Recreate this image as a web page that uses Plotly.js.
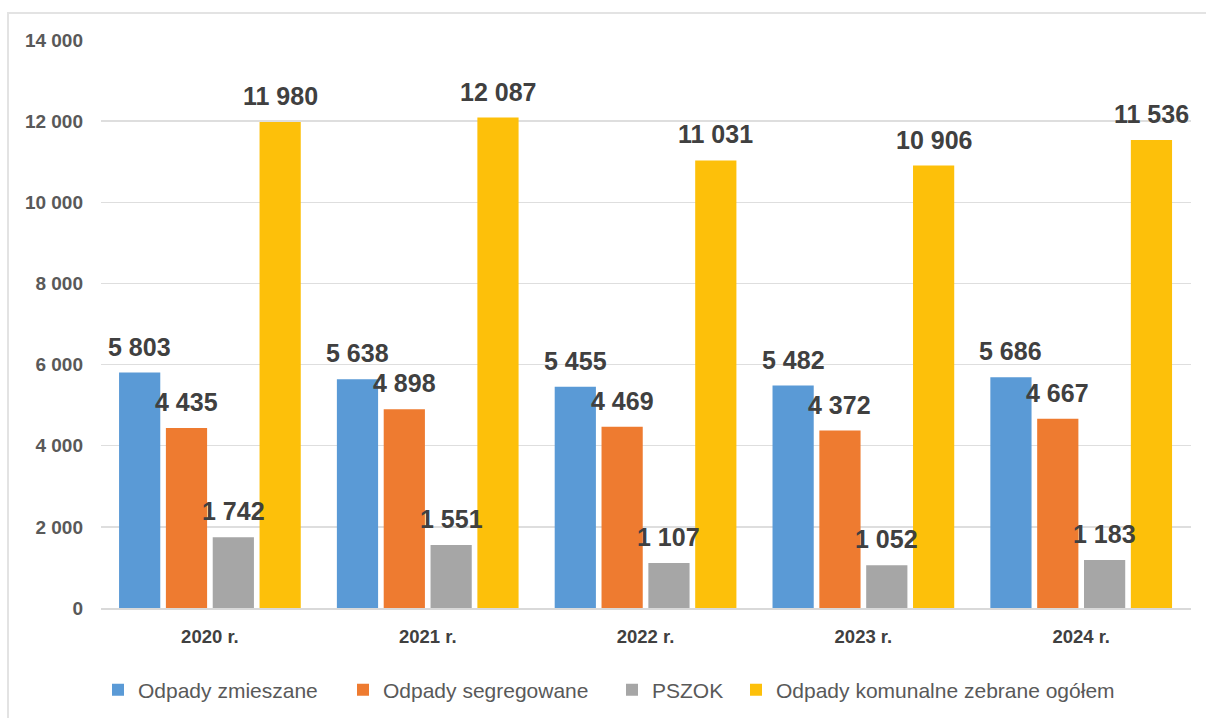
<!DOCTYPE html>
<html>
<head>
<meta charset="utf-8">
<script src="https://cdn.plot.ly/plotly-3.0.1.min.js"></script>
<style>
  html, body { margin: 0; padding: 0; background: #ffffff; }
  #wrap { position: relative; width: 1206px; height: 718px; overflow: hidden; }
  #chart { position: absolute; left: 0; top: 0; width: 1206px; height: 718px; }
  #frame { position: absolute; left: 7px; top: 12px; width: 1210px; height: 720px;
           border-top: 2px solid #e3e3e3; border-left: 2px solid #e3e3e3; pointer-events: none; }
</style>
</head>
<body>
<div id="wrap">
  <div id="chart"></div>
  <div id="frame"></div>
</div>
<script>
const categories = ['2020 r.', '2021 r.', '2022 r.', '2023 r.', '2024 r.'];
const seriesNames = ['Odpady zmieszane', 'Odpady segregowane', 'PSZOK', 'Odpady komunalne zebrane ogółem'];
const zmieszane = [5803, 5638, 5455, 5482, 5686];
const segregowane = [4435, 4898, 4469, 4372, 4667];
const pszok = [1742, 1551, 1107, 1052, 1183];
const ogolem = [11980, 12087, 11031, 10906, 11536];
const yTicks = [0, 2000, 4000, 6000, 8000, 10000, 12000, 14000];

const seriesValues = [zmieszane, segregowane, pszok, ogolem];
const colors = ['#5A9AD6', '#EE7B30', '#A6A6A6', '#FDC00A'];
const legendIds = ['legend', 'legend2', 'legend3', 'legend4'];
const legendLeftPx = [112, 357, 626, 750];

const W = 1206, H = 718;
const margin = {l: 101, r: 15, t: 40, b: 110};
const bargap = 0.14, bargroupgap = 0.12;
const plotW = W - margin.l - margin.r;
const slot = plotW / categories.length * (1 - bargap) / seriesValues.length;

function fmt(v) {
  return String(v).replace(/\B(?=(\d{3})+(?!\d))/g, ' ');
}

const traces = seriesValues.map((vals, i) => ({
  type: 'bar',
  name: seriesNames[i],
  x: categories,
  y: vals,
  legend: legendIds[i],
  marker: {color: colors[i]},
  hoverinfo: 'x+y+name'
}));

const annotations = [];
seriesValues.forEach((vals, i) => {
  vals.forEach((v, j) => {
    annotations.push({
      x: categories[j], y: v, xref: 'x', yref: 'y',
      text: fmt(v), showarrow: false,
      xanchor: 'center', yanchor: 'middle',
      xshift: (i - (seriesValues.length - 1) / 2) * slot,
      yshift: 26,
      font: {family: 'Liberation Sans, Arial, sans-serif', size: 25, color: '#404040', weight: 'bold'}
    });
  });
});

const layout = {
  width: W, height: H,
  margin: margin,
  paper_bgcolor: '#ffffff',
  plot_bgcolor: '#ffffff',
  barmode: 'group',
  bargap: bargap,
  bargroupgap: bargroupgap,
  separators: ', ',
  font: {family: 'Liberation Sans, Arial, sans-serif', color: '#595959'},
  xaxis: {
    type: 'category',
    automargin: false,
    showgrid: false,
    showline: true,
    linecolor: '#d9d9d9',
    linewidth: 1.5,
    ticks: '',
    tickfont: {size: 18.5, color: '#404040', weight: 'bold'},
    ticklabelstandoff: 11
  },
  yaxis: {
    range: [0, 14000],
    automargin: false,
    tickvals: yTicks,
    ticktext: yTicks.map(fmt),
    showgrid: true,
    gridcolor: '#dedede',
    gridwidth: 1.5,
    zeroline: false,
    showline: false,
    ticks: '',
    ticklabelstandoff: 17,
    tickfont: {size: 19, color: '#595959', weight: 'bold'}
  },
  annotations: annotations,
  showlegend: true
};

legendIds.forEach((id, i) => {
  layout[id] = {
    orientation: 'h',
    xref: 'container', yref: 'container',
    x: (legendLeftPx[i] - 14) / W, xanchor: 'left',
    y: 1 - 690 / H, yanchor: 'middle',
    font: {size: 21, color: '#595959'},
    itemwidth: 30,
    bgcolor: 'rgba(0,0,0,0)'
  };
});

Plotly.newPlot('chart', traces, layout, {displayModeBar: false, staticPlot: true});
</script>
</body>
</html>
